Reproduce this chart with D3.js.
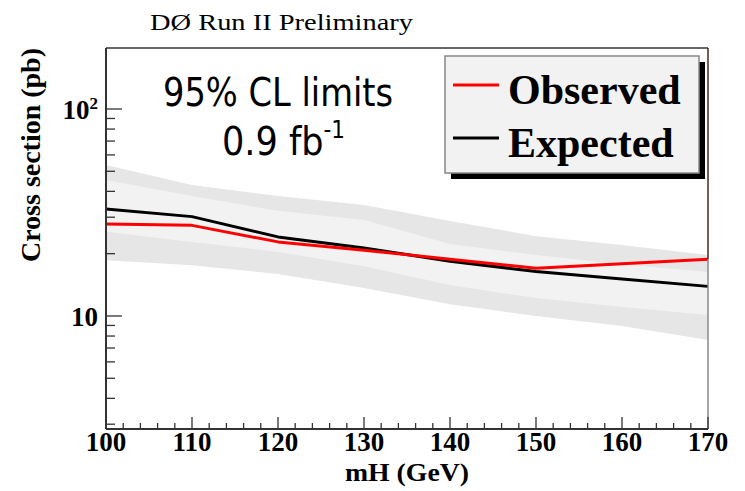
<!DOCTYPE html>
<html>
<head>
<meta charset="utf-8">
<script src="https://cdn.jsdelivr.net/npm/d3@7"></script>
<style>
  html, body { margin: 0; padding: 0; background: #fff; }
  svg { display: block; }
  .serif { font-family: "Liberation Serif", "Times New Roman", serif; }
  .sans { font-family: Tahoma, "DejaVu Sans Condensed", "DejaVu Sans", sans-serif; }
</style>
</head>
<body>
<svg id="chart" width="745" height="491"></svg>
<script>
// Higgs mass points (GeV)
const masses = [100, 110, 120, 130, 140, 150, 160, 170];
// 95% CL upper limits on the cross section (pb)
const observed = [27.8, 27.4, 22.8, 20.8, 18.8, 17.0, 17.9, 18.8];
const expected = [32.9, 30.2, 24.1, 21.3, 18.4, 16.4, 15.1, 13.9];
// Expected-limit bands
const plus2sigma  = [53.6, 42.9, 38.0, 34.4, 28.8, 24.3, 22.0, 19.7];
const plus1sigma  = [45.4, 38.0, 32.2, 29.1, 22.3, 19.7, 17.8, 16.3];
const minus1sigma = [25.5, 22.8, 20.4, 17.4, 14.1, 12.2, 11.05, 10.1];
const minus2sigma = [18.6, 17.6, 15.95, 13.65, 11.4, 10.0, 8.95, 7.66];
// Axis ticks
const xMajorTicks = [100, 110, 120, 130, 140, 150, 160, 170];
const yMajorTicks = [10, 100];
const yMajorLabels = ["10", "10²"];
const yMinorTicks = [3, 4, 5, 6, 7, 8, 9, 20, 30, 40, 50, 60, 70, 80, 90];
const legendLabels = ["Observed", "Expected"];

const svg = d3.select("#chart");
const L = 106, R = 708, T = 48, B = 429;

const x = d3.scaleLinear().domain([100, 170]).range([L, R]);
const y = d3.scaleLog().domain([2.844, 197.1]).range([B, T]);

const rows = masses.map((m, i) => ({
  m, obs: observed[i], exp: expected[i],
  p2: plus2sigma[i], p1: plus1sigma[i], m1: minus1sigma[i], m2: minus2sigma[i]
}));

// plot background
svg.append("rect").attr("x", L).attr("y", T).attr("width", R - L).attr("height", B - T)
  .attr("fill", "#fff");

// bands
const area2 = d3.area().x(d => x(d.m)).y0(d => y(d.m2)).y1(d => y(d.p2));
const area1 = d3.area().x(d => x(d.m)).y0(d => y(d.m1)).y1(d => y(d.p1));
svg.append("path").datum(rows).attr("d", area2).attr("fill", "#e6e6e6");
svg.append("path").datum(rows).attr("d", area1).attr("fill", "#f2f2f2");

// limit curves
const lineExp = d3.line().x(d => x(d.m)).y(d => y(d.exp));
const lineObs = d3.line().x(d => x(d.m)).y(d => y(d.obs));
svg.append("path").datum(rows).attr("d", lineExp)
  .attr("fill", "none").attr("stroke", "#000").attr("stroke-width", 3).attr("stroke-linejoin", "round");
svg.append("path").datum(rows).attr("d", lineObs)
  .attr("fill", "none").attr("stroke", "#ff0000").attr("stroke-width", 3).attr("stroke-linejoin", "round");

// frame
svg.append("line").attr("x1", L).attr("x2", R).attr("y1", T).attr("y2", T)
  .attr("stroke", "#333").attr("stroke-width", 1.5);
svg.append("line").attr("x1", R).attr("x2", R).attr("y1", T).attr("y2", y(observed[observed.length - 1]))
  .attr("stroke", "#4a2626").attr("stroke-width", 1.5);
svg.append("line").attr("x1", R).attr("x2", R).attr("y1", y(observed[observed.length - 1])).attr("y2", B)
  .attr("stroke", "#888").attr("stroke-width", 1.5);

// x axis
const xAxisG = svg.append("g").attr("transform", `translate(0,${B})`);
const xMinor = d3.range(100, 170.001, 2).filter(v => !xMajorTicks.includes(v));
xAxisG.selectAll(".xmin").data(xMinor).join("line")
  .attr("x1", d => x(d)).attr("x2", d => x(d)).attr("y1", 0).attr("y2", -6)
  .attr("stroke", "#333").attr("stroke-width", 1.3);
xAxisG.selectAll(".xmaj").data(xMajorTicks).join("line")
  .attr("x1", d => x(d)).attr("x2", d => x(d)).attr("y1", 0).attr("y2", -12)
  .attr("stroke", "#333").attr("stroke-width", 1.3);
xAxisG.append("line").attr("x1", L).attr("x2", R).attr("y1", 0).attr("y2", 0)
  .attr("stroke", "#333").attr("stroke-width", 2);
xAxisG.selectAll(".xlab").data(xMajorTicks).join("text")
  .attr("class", "serif").attr("x", d => x(d)).attr("y", 22)
  .attr("text-anchor", "middle").attr("font-weight", "bold").attr("font-size", 27)
  .text(d => d);
svg.append("text").attr("class", "serif")
  .attr("x", 407).attr("y", 481).attr("text-anchor", "middle")
  .attr("font-weight", "bold").attr("font-size", 25)
  .attr("textLength", 124).attr("lengthAdjust", "spacingAndGlyphs")
  .text("mH (GeV)");

// y axis
const yAxisG = svg.append("g");
yAxisG.selectAll(".ymin").data(yMinorTicks).join("line")
  .attr("x1", L).attr("x2", L + 9).attr("y1", d => y(d)).attr("y2", d => y(d))
  .attr("stroke", "#333").attr("stroke-width", 1.3);
yAxisG.selectAll(".ymaj").data(yMajorTicks).join("line")
  .attr("x1", L).attr("x2", L + 16).attr("y1", d => y(d)).attr("y2", d => y(d))
  .attr("stroke", "#333").attr("stroke-width", 1.3);
yAxisG.append("line").attr("x1", L).attr("x2", L).attr("y1", T).attr("y2", B)
  .attr("stroke", "#333").attr("stroke-width", 2);
yAxisG.selectAll(".ylab").data(yMajorTicks).join("text")
  .attr("class", "serif").attr("x", L - 8).attr("y", d => y(d) + 10)
  .attr("text-anchor", "end").attr("font-weight", "bold").attr("font-size", 27)
  .each(function(d, i) {
    const t = d3.select(this);
    if (yMajorLabels[i] === "10²") {
      t.append("tspan").text("10");
      t.append("tspan").attr("dy", -10).attr("font-size", 17).text("2");
    } else {
      t.text(yMajorLabels[i]);
    }
  });
svg.append("text").attr("class", "serif")
  .attr("transform", "translate(40,155) rotate(-90)").attr("text-anchor", "middle")
  .attr("font-weight", "bold").attr("font-size", 27)
  .attr("textLength", 214).attr("lengthAdjust", "spacingAndGlyphs")
  .text("Cross section (pb)");

// header
svg.append("text").attr("class", "serif")
  .attr("x", 150).attr("y", 30).attr("font-size", 23)
  .attr("textLength", 263).attr("lengthAdjust", "spacingAndGlyphs")
  .text("DØ Run II Preliminary");

// annotation
svg.append("text").attr("class", "sans")
  .attr("x", 163).attr("y", 106).attr("font-size", 39)
  .attr("textLength", 230).attr("lengthAdjust", "spacingAndGlyphs")
  .text("95% CL limits");
const lumi = svg.append("text").attr("class", "sans")
  .attr("x", 222).attr("y", 155).attr("font-size", 39);
lumi.append("tspan").text("0.9 fb");
lumi.append("tspan").attr("dy", -17).attr("font-size", 24).text("-1");

// legend
const lg = svg.append("g");
lg.append("rect").attr("x", 451).attr("y", 62).attr("width", 254).attr("height", 117).attr("fill", "#000");
lg.append("rect").attr("x", 445).attr("y", 56).attr("width", 254).attr("height", 117)
  .attr("fill", "#f2f2f2").attr("stroke", "#888").attr("stroke-width", 1.5);
const legendColors = ["#ff0000", "#000"];
const legendY = [85, 138];
legendLabels.forEach((lab, i) => {
  lg.append("line").attr("x1", 453).attr("x2", 499).attr("y1", legendY[i]).attr("y2", legendY[i])
    .attr("stroke", legendColors[i]).attr("stroke-width", 3);
  lg.append("text").attr("class", "serif").attr("x", 508).attr("y", legendY[i] + 19)
    .attr("font-weight", "bold").attr("font-size", 42).text(lab);
});
</script>
</body>
</html>
